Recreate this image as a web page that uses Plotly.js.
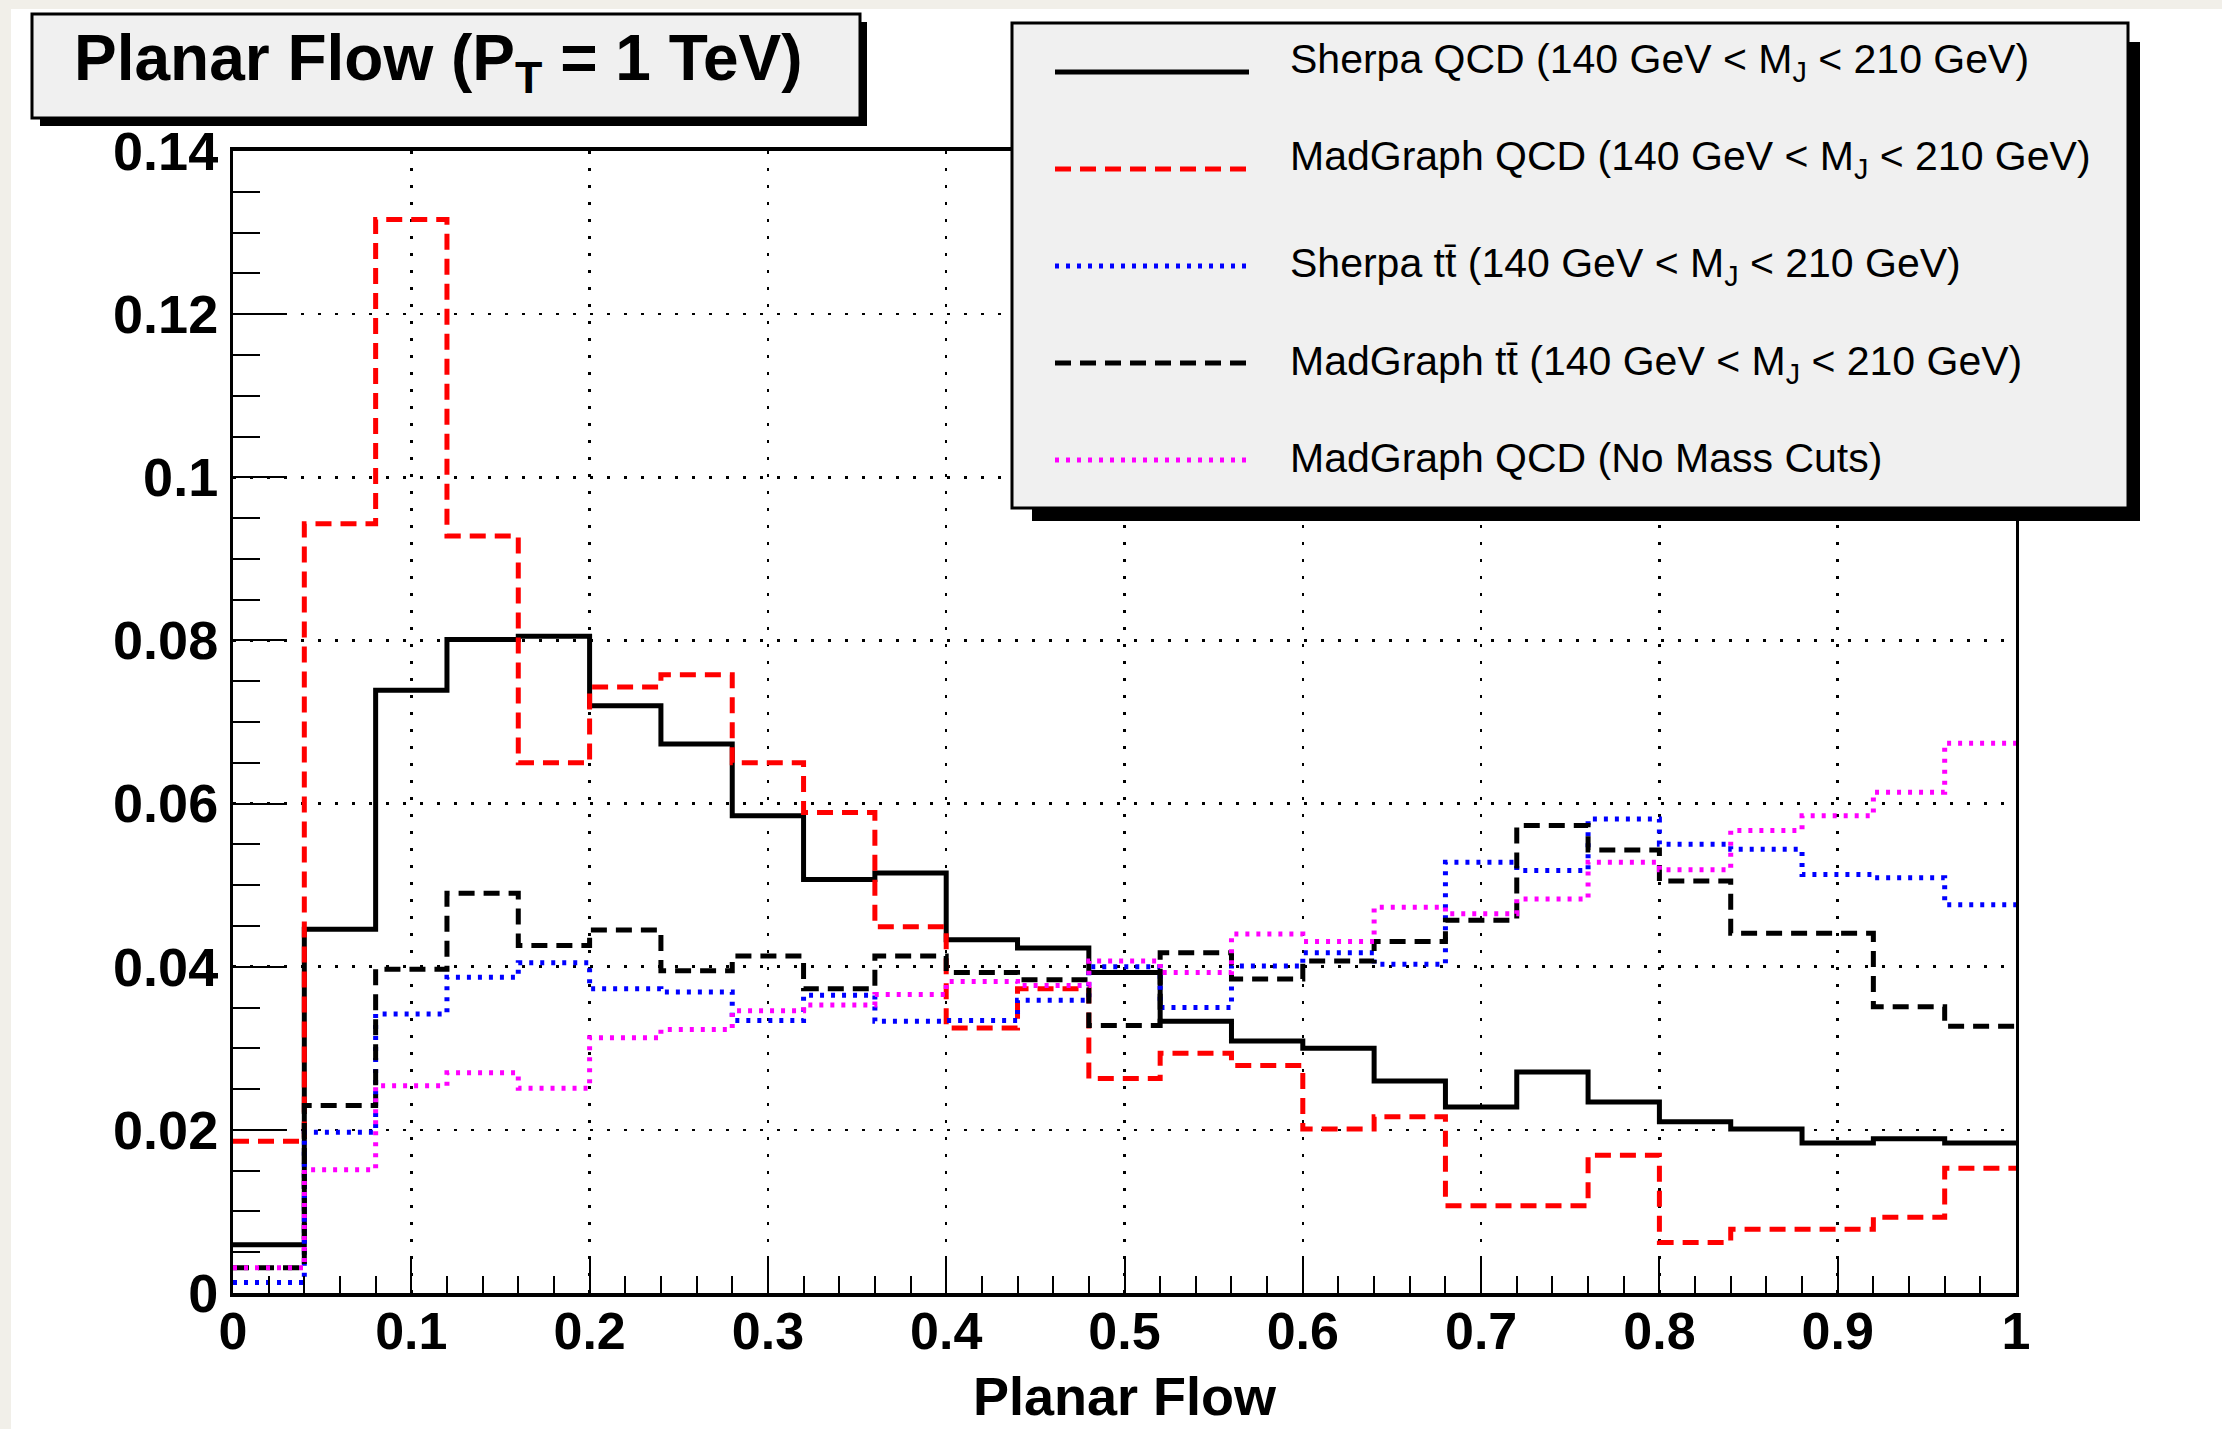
<!DOCTYPE html>
<html>
<head>
<meta charset="utf-8">
<script src="https://cdn.plot.ly/plotly-3.0.1.min.js"></script>
<style>
  html, body { margin: 0; padding: 0; background: #ffffff; }
  #chart { width: 2222px; height: 1429px; }
</style>
</head>
<body>
<div id="chart"></div>
<script>
// ---- Data ----
const binEdges = [0, 0.04, 0.08, 0.12, 0.16, 0.20, 0.24, 0.28, 0.32, 0.36, 0.40, 0.44, 0.48,
                  0.52, 0.56, 0.60, 0.64, 0.68, 0.72, 0.76, 0.80, 0.84, 0.88, 0.92, 0.96, 1.00];

const sherpaQCD = [0.0059, 0.0446, 0.0739, 0.0801, 0.0805, 0.0720, 0.0673, 0.0585, 0.0507, 0.0515,
                   0.0433, 0.0423, 0.0393, 0.0333, 0.0309, 0.0300, 0.0260, 0.0228, 0.0271, 0.0234,
                   0.0210, 0.0201, 0.0184, 0.0189, 0.0184];

const madgraphQCD = [0.0186, 0.0943, 0.1316, 0.0928, 0.0650, 0.0743, 0.0758, 0.0650, 0.0589, 0.0449,
                     0.0325, 0.0373, 0.0263, 0.0294, 0.0279, 0.0201, 0.0216, 0.0107, 0.0107, 0.0169,
                     0.0062, 0.0078, 0.0078, 0.0093, 0.0153];

const sherpaTT = [0.0013, 0.0197, 0.0342, 0.0387, 0.0405, 0.0373, 0.0369, 0.0334, 0.0365, 0.0333,
                  0.0334, 0.0359, 0.0400, 0.0350, 0.0401, 0.0417, 0.0403, 0.0528, 0.0518, 0.0581,
                  0.0550, 0.0544, 0.0513, 0.0509, 0.0476];

const madgraphTT = [0.0031, 0.0230, 0.0397, 0.0490, 0.0426, 0.0445, 0.0395, 0.0413, 0.0373, 0.0413,
                    0.0393, 0.0384, 0.0328, 0.0417, 0.0385, 0.0407, 0.0431, 0.0457, 0.0573, 0.0543,
                    0.0505, 0.0441, 0.0441, 0.0351, 0.0327];

const madgraphQCDNoCut = [0.0031, 0.0151, 0.0254, 0.0270, 0.0251, 0.0313, 0.0323, 0.0346, 0.0353, 0.0366,
                          0.0382, 0.0377, 0.0407, 0.0393, 0.0440, 0.0431, 0.0473, 0.0465, 0.0483, 0.0528,
                          0.0519, 0.0567, 0.0585, 0.0614, 0.0674];

const seriesNames = [
  "Sherpa QCD (140 GeV &lt; M<sub>J</sub> &lt; 210 GeV)",
  "MadGraph QCD (140 GeV &lt; M<sub>J</sub> &lt; 210 GeV)",
  "Sherpa tt\u0304 (140 GeV &lt; M<sub>J</sub> &lt; 210 GeV)",
  "MadGraph tt\u0304 (140 GeV &lt; M<sub>J</sub> &lt; 210 GeV)",
  "MadGraph QCD (No Mass Cuts)"
];
const chartTitle = "Planar Flow (P<sub>T</sub> = 1 TeV)";
const xTitle = "Planar Flow";

// ---- Styles ----
const FONT = "Liberation Sans, Arial, Helvetica, sans-serif";
const styles = [
  {color: "#000000", width: 5, dash: "solid"},
  {color: "#ff0000", width: 5, dash: "16px,9px"},
  {color: "#0000ff", width: 5, dash: "4px,7px"},
  {color: "#000000", width: 5, dash: "16px,9px"},
  {color: "#ff00ff", width: 5, dash: "4px,7px"}
];
const seriesData = [sherpaQCD, madgraphQCD, sherpaTT, madgraphTT, madgraphQCDNoCut];

// ---- Geometry (pixels) ----
const W = 2222, H = 1429;
const L = 233, R = 2016, T = 151, B = 1293;
const PW = R - L, PH = B - T;
const xp = px => (px - L) / PW;
const yp = py => (B - py) / PH;

const traces = seriesData.map((vals, i) => ({
  type: "scatter",
  mode: "lines",
  x: binEdges,
  y: vals.concat([vals[vals.length - 1]]),
  line: {shape: "hv", color: styles[i].color, width: styles[i].width, dash: styles[i].dash},
  name: seriesNames[i],
  showlegend: false,
  hoverinfo: "skip"
}));

function rect(x0, y0, x1, y1, fill, lineW) {
  return {type: "rect", xref: "paper", yref: "paper",
          x0: xp(x0), x1: xp(x1), y0: yp(y1), y1: yp(y0),
          fillcolor: fill, line: {color: "#000000", width: lineW || 0}, layer: "above"};
}

const shapes = [];
// beige page border strips
shapes.push(Object.assign(rect(0, 0, 11, H, "#f1efe9", 0), {line: {width: 0}}));
shapes.push(Object.assign(rect(0, 0, W, 9, "#f1efe9", 0), {line: {width: 0}}));
// title box with shadow
shapes.push(rect(40, 22, 867, 126, "#000000", 0));
shapes.push(rect(32, 14, 860, 118, "#f0f0f0", 3));
// legend box with shadow
shapes.push(rect(1032, 42, 2140, 521, "#000000", 0));
shapes.push(rect(1012, 23, 2128, 508, "#f0f0f0", 3));

const legendY = [72, 169, 266, 363, 460];
const textOffset = [-10, -10, 0, 1, -2];
const annotations = [];
legendY.forEach((py, i) => {
  shapes.push({type: "line", xref: "paper", yref: "paper",
               x0: xp(1055), x1: xp(1249), y0: yp(py), y1: yp(py),
               line: {color: styles[i].color, width: styles[i].width, dash: styles[i].dash},
               layer: "above"});
  annotations.push({xref: "paper", yref: "paper", x: xp(1288), y: yp(py + textOffset[i]),
                    xanchor: "left", yanchor: "middle", showarrow: false,
                    text: seriesNames[i],
                    font: {family: FONT, size: 41, color: "#000000"}});
});
annotations.push({xref: "paper", yref: "paper", x: xp(72), y: yp(62),
                  xanchor: "left", yanchor: "middle", showarrow: false,
                  text: chartTitle,
                  font: {family: FONT, size: 64, color: "#000000", weight: "bold"}});

const layout = {
  width: W, height: H,
  margin: {l: L, r: W - R, t: T, b: H - B, pad: 0},
  paper_bgcolor: "#ffffff",
  plot_bgcolor: "#ffffff",
  showlegend: false,
  font: {family: FONT, color: "#000000"},
  xaxis: {
    range: [0, 1], dtick: 0.1, tick0: 0,
    showline: true, linecolor: "#000000", linewidth: 4, mirror: true,
    ticks: "inside", ticklen: 35, tickwidth: 2, tickcolor: "#000000",
    showgrid: true, gridcolor: "#000000", gridwidth: 2.5, griddash: "3px,14px",
    zeroline: false,
    tickfont: {family: FONT, size: 52, weight: "bold"},
    ticklabelstandoff: -10,
    minor: {dtick: 0.02, ticks: "inside", ticklen: 17, tickwidth: 2, tickcolor: "#000000", showgrid: false},
    title: {text: xTitle, font: {family: FONT, size: 54, weight: "bold"}, standoff: 19},
    automargin: false
  },
  yaxis: {
    range: [0, 0.14], dtick: 0.02, tick0: 0,
    showline: true, linecolor: "#000000", linewidth: 3, mirror: true,
    ticks: "inside", ticklen: 52, tickwidth: 2, tickcolor: "#000000",
    showgrid: true, gridcolor: "#000000", gridwidth: 2.5, griddash: "3px,14px",
    zeroline: false,
    tickfont: {family: FONT, size: 54, weight: "bold"},
    ticklabelstandoff: 1,
    minor: {dtick: 0.005, ticks: "inside", ticklen: 27, tickwidth: 2, tickcolor: "#000000", showgrid: false},
    automargin: false
  },
  shapes: shapes,
  annotations: annotations
};

Plotly.newPlot("chart", traces, layout, {staticPlot: true, displayModeBar: false});
</script>
</body>
</html>
